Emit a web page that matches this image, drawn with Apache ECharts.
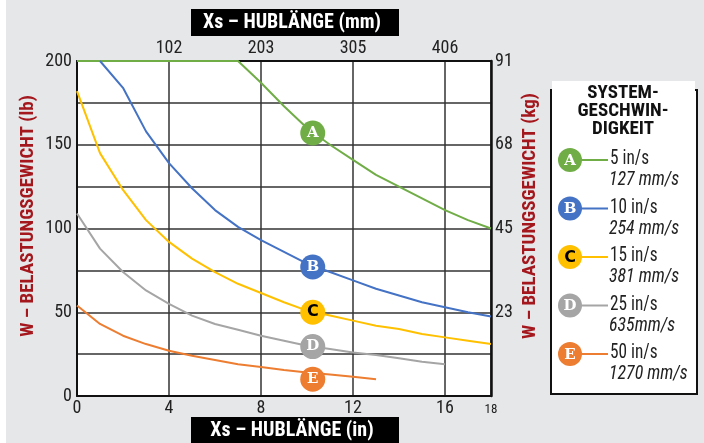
<!DOCTYPE html>
<html><head><meta charset="utf-8">
<script src="https://cdn.jsdelivr.net/npm/echarts@6/dist/echarts.min.js"></script>
<style>html,body{margin:0;padding:0;background:#e6e7e9;}#c{width:704px;height:443px;}</style>
</head><body><div id="c"></div>
<script>
// ---- data ----
const seriesNames = ['A','B','C','D','E'];
const speedIn = ['5 in/s','10 in/s','15 in/s','25 in/s','50 in/s'];
const speedMm = ['127 mm/s','254 mm/s','381 mm/s','635mm/s','1270 mm/s'];
const colors = ['#70ad47','#4472c4','#ffc000','#a5a5a5','#ed7d31'];
const seriesA = [[0,200],[7,200],[8,187],[9,173],[10,160],[11,150],[12,141],[13,132],[14,125],[15,118],[16,111],[17,105],[18,100]];
const seriesB = [[1,200],[2,184],[3,158],[4,139],[5,124],[6,111],[7,101],[8,93],[9,86],[10,79],[11,74],[12,69],[13,64],[14,60],[15,56],[16,53],[17,50],[18,47.5]];
const seriesC = [[0,182],[1,145],[2,123],[3,105],[4,92],[5,82],[6,74],[7,67],[8,61.5],[9,56],[10,51],[11,48],[12,45],[13,42],[14,40],[15,37],[16,35],[17,33],[18,31]];
const seriesD = [[0,109],[1,88],[2,74],[3,63],[4,55],[5,48],[6,43],[7,39.5],[8,36],[9,33],[10,30],[11,28],[12,26],[13,24.5],[14,22.5],[15,20.5],[16,19]];
const seriesE = [[0,54],[1,43],[2,36],[3,31],[4,27],[5,24],[6,21.5],[7,19],[8,17.3],[9,15.5],[10,14],[11,12.8],[12,11.5],[13,10]];
const markerPoints = [[10.25,157],[10.25,77],[10.25,50],[10.25,29.5],[10.25,10]];
const inTicks = [4,8,12,16];
const mmTickLabels = ['102','203','305','406'];
const lbTicks = [50,100,150,200];
const kgTickLabels = ['23','45','68','91'];

const allSeries = [seriesA,seriesB,seriesC,seriesD,seriesE];
const narrow = "'Liberation Sans Narrow','Roboto Condensed','Arial Narrow',sans-serif";
const titleRed = '#a3171d';

const chart = echarts.init(document.getElementById('c'));
const lines = allSeries.map((d,i)=>({
  type:'line', name:seriesNames[i], data:d, symbol:'none', smooth:false,
  lineStyle:{color:colors[i], width:2}, z:3
}));
const markers = {
  type:'scatter', symbolSize:25, z:5,
  data: markerPoints.map((p,i)=>({value:p, itemStyle:{color:colors[i], opacity:1},
    label:{show:true, formatter:seriesNames[i], position:'inside',
      color: i===2 ? '#000' : '#fff',
      fontFamily: i===2 ? "'DejaVu Sans',sans-serif" : "'DejaVu Serif',serif",
      fontWeight:'bold', fontSize: i===2 ? 16 : 15}})),
};

// legend graphics
const lg = [];
lg.push({type:'rect', shape:{x:551,y:90,width:146,height:304}, style:{fill:'#fff', stroke:'#111', lineWidth:2}, z:10});
lg.push({type:'rect', shape:{x:552,y:81,width:143,height:12}, style:{fill:'#fff'}, z:11});
['SYSTEM-','GESCHWIN-','DIGKEIT'].forEach((t,k)=>{
  lg.push({type:'text', x:623, y:93+k*18, style:{text:t, fill:'#111', font:"bold 19px "+narrow, align:'center', verticalAlign:'middle'}, z:12});
});
seriesNames.forEach((n,i)=>{
  const cy = 160 + i*48.5;
  lg.push({type:'line', shape:{x1:575,y1:cy,x2:608,y2:cy}, style:{stroke:colors[i], lineWidth:2}, z:12});
  lg.push({type:'circle', shape:{cx:570,cy:cy,r:12}, style:{fill:colors[i]}, z:13});
  lg.push({type:'text', x:570, y:cy+1, style:{text:n, fill: i===2?'#000':'#fff',
    font: i===2 ? "bold 16px 'DejaVu Sans',sans-serif" : "bold 15px 'DejaVu Serif',serif", align:'center', verticalAlign:'middle'}, z:14});
  lg.push({type:'text', x:610, y:cy-1, scaleX:0.82, style:{text:speedIn[i], fill:'#222', font:"21px "+narrow, verticalAlign:'middle'}, z:12});
  lg.push({type:'text', x:609, y:cy+20, scaleX:0.85, style:{text:speedMm[i], fill:'#222', font:"italic 21px "+narrow, verticalAlign:'middle'}, z:12});
});
// axis title boxes
const titles = [
  {type:'rect', shape:{x:191,y:9,width:208,height:27}, style:{fill:'#000'}, z:10},
  {type:'text', x:292, y:23, style:{text:'Xs – HUBLÄNGE (mm)', fill:'#fff', font:"bold 20px "+narrow, align:'center', verticalAlign:'middle'}, z:11},
  {type:'rect', shape:{x:191,y:417,width:208,height:30}, style:{fill:'#000'}, z:10},
  {type:'text', x:292, y:431, style:{text:'Xs – HUBLÄNGE (in)', fill:'#fff', font:"bold 20px "+narrow, align:'center', verticalAlign:'middle'}, z:11},
  {type:'text', x:28, y:216, rotation:Math.PI/2, style:{text:'W – BELASTUNGSGEWICHT (lb)', fill:titleRed, font:"bold 19px "+narrow, align:'center', verticalAlign:'middle'}, z:11},
  {type:'text', x:530, y:216, rotation:Math.PI/2, style:{text:'W – BELASTUNGSGEWICHT (kg)', fill:titleRed, font:"bold 19px "+narrow, align:'center', verticalAlign:'middle'}, z:11},
  {type:'rect', shape:{x:0,y:0,width:6,height:443}, style:{fill:'#fff'}, z:0}
];

const gridLine = {show:true, lineStyle:{color:'#333', width:1.5}};
chart.setOption({
  animation:false,
  backgroundColor:'#e6e7e9',
  grid:{left:77, right:213, top:61, bottom:47, show:true, backgroundColor:'#fff', borderWidth:0},
  xAxis:[
    {type:'value', position:'bottom', min:0, max:18, interval:4,
     axisLine:{show:true, onZero:false, lineStyle:{color:'#111', width:2}}, axisTick:{show:false},
     splitLine:gridLine,
     axisLabel:{color:'#222', fontSize:18, fontFamily:narrow, margin:3,
       formatter:v=> v===18 ? '{s|18}' : String(v),
       rich:{s:{fontSize:13, fontFamily:narrow, color:'#222', padding:[4,0,0,0]}}}},
    {type:'value', position:'top', min:0, max:18, interval:4,
     axisLine:{show:true, onZero:false, lineStyle:{color:'#111', width:2}}, axisTick:{show:false},
     splitLine:{show:false},
     axisLabel:{color:'#222', fontSize:18, fontFamily:narrow, margin:4,
       formatter:v=>{const k=inTicks.indexOf(v); return k>=0?mmTickLabels[k]:'';}}}
  ],
  yAxis:[
    {type:'value', position:'left', min:0, max:200, interval:25,
     axisLine:{show:true, onZero:false, lineStyle:{color:'#111', width:2}}, axisTick:{show:false},
     splitLine:gridLine,
     axisLabel:{color:'#222', fontSize:18, fontFamily:narrow, margin:5,
       formatter:v=> v%50===0 ? String(v) : ''}},
    {type:'value', position:'right', min:0, max:200, interval:25,
     axisLine:{show:true, onZero:false, lineStyle:{color:'#111', width:2.5}}, axisTick:{show:false},
     splitLine:{show:false},
     axisLabel:{color:'#222', fontSize:18, fontFamily:narrow, margin:4,
       formatter:v=>{const k=lbTicks.indexOf(v); return k>=0?kgTickLabels[k]:'';}}}
  ],
  series:[...lines, markers],
  graphic:[...titles, ...lg]
});
</script></body></html>
